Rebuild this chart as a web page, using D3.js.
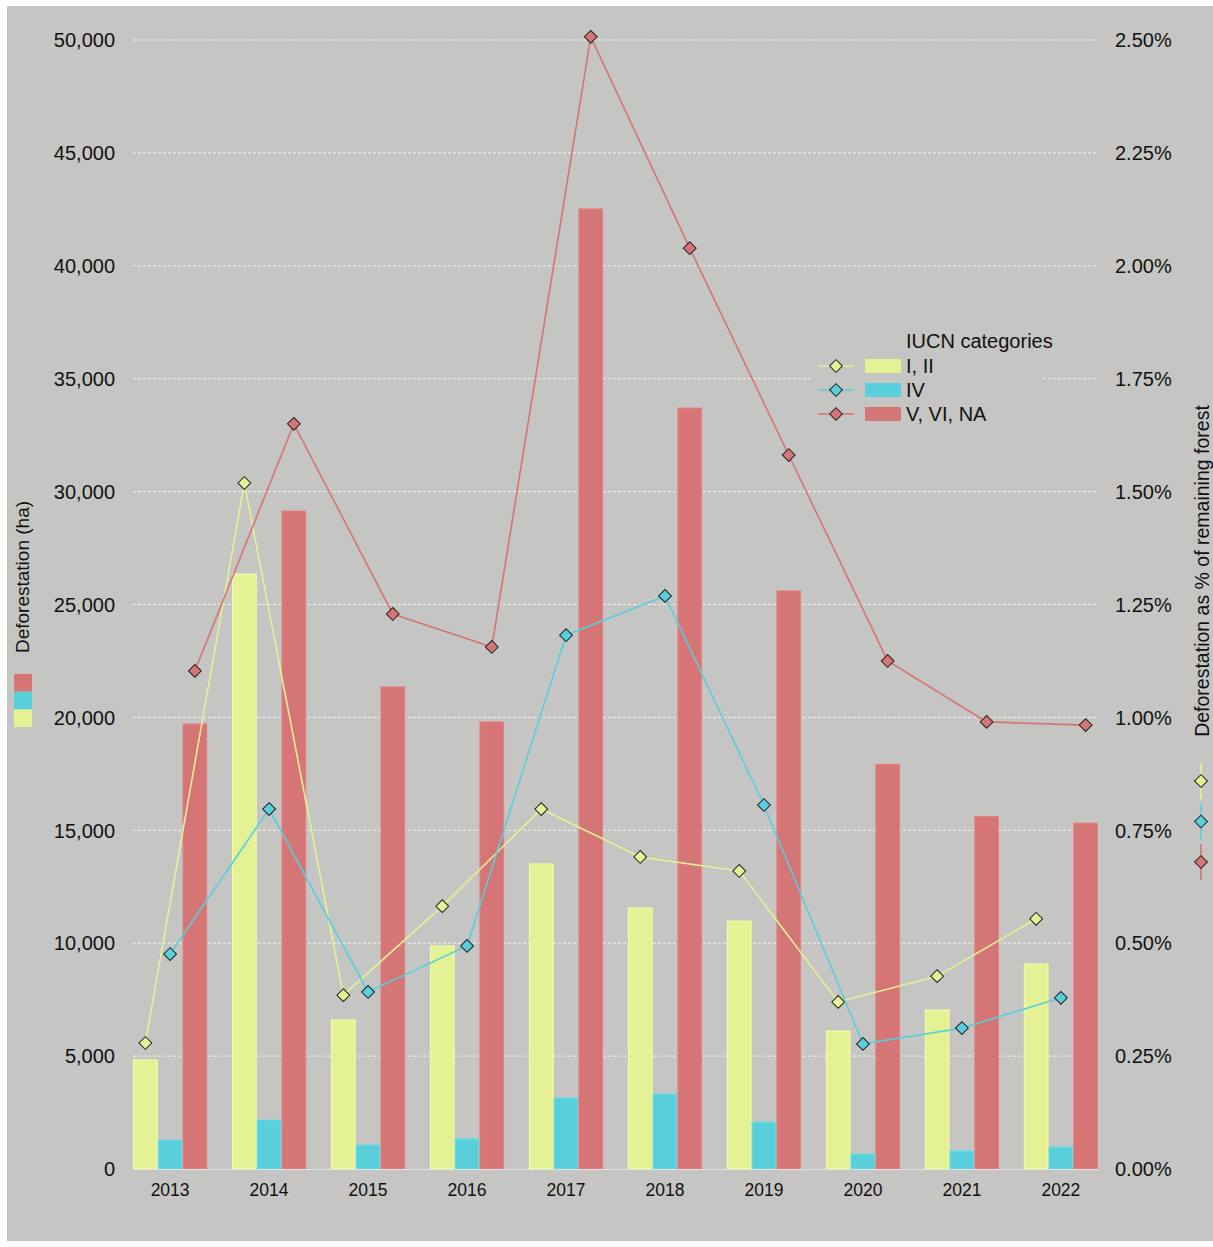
<!DOCTYPE html>
<html>
<head>
<meta charset="utf-8">
<script src="https://cdn.jsdelivr.net/npm/d3@7"></script>
<style>
  body { margin: 0; background: #fff; }
  svg { display: block; font-family: "Liberation Sans", Arial, sans-serif; }
</style>
</head>
<body>
<svg id="chart" width="1213" height="1247"></svg>
<script>
// data
const years = [2013, 2014, 2015, 2016, 2017, 2018, 2019, 2020, 2021, 2022];
const categories = ["I, II", "IV", "V, VI, NA"];
const colors = ["#e4f194", "#58cfdb", "#d57575"];

// deforestation in hectares (bars, left axis)
const haI_II = [4830, 26350, 6600, 9880, 13510, 11560, 10980, 6110, 7040, 9080];
const haIV = [1280, 2170, 1060, 1330, 3140, 3320, 2080, 660, 800, 970];
const haV_VI_NA = [19710, 29140, 21350, 19800, 42520, 33700, 25600, 17920, 15610, 15320];

// deforestation as % of remaining forest (lines, right axis)
const pctI_II = [0.279, 1.519, 0.385, 0.582, 0.797, 0.691, 0.660, 0.370, 0.427, 0.554];
const pctIV = [0.476, 0.797, 0.392, 0.494, 1.182, 1.269, 0.806, 0.277, 0.312, 0.379];
const pctV_VI_NA = [1.103, 1.650, 1.229, 1.156, 2.507, 2.039, 1.581, 1.125, 0.990, 0.983];

const leftTicks = [0, 5000, 10000, 15000, 20000, 25000, 30000, 35000, 40000, 45000, 50000];
const rightTicks = [0, 0.25, 0.5, 0.75, 1, 1.25, 1.5, 1.75, 2, 2.25, 2.5];

const haSeries = [haI_II, haIV, haV_VI_NA];
const pctSeries = [pctI_II, pctIV, pctV_VI_NA];

const svg = d3.select("#chart");
const bg = "#c5c5c3";

// grey panel
svg.append("rect").attr("x", 7).attr("y", 6).attr("width", 1206).attr("height", 1235).attr("fill", bg);

const x0 = d3.scaleBand().domain(years).range([133, 1098]).paddingInner(0.25).paddingOuter(0);
const x1 = d3.scaleBand().domain(d3.range(categories.length)).range([0, x0.bandwidth()]);
const y = d3.scaleLinear().domain([0, 50000]).range([1169, 40]);
const y2 = d3.scaleLinear().domain([0, 2.5]).range([1169, 40]);

// gridlines
svg.append("g").selectAll("line")
  .data(leftTicks.filter(d => d > 0))
  .join("line")
  .attr("x1", 133).attr("x2", 1098)
  .attr("y1", d => y(d)).attr("y2", d => y(d))
  .attr("stroke", "#f2f2f2").attr("stroke-width", 1)
  .attr("stroke-dasharray", "3,2");

// bars
const groups = svg.append("g").selectAll("g")
  .data(years)
  .join("g")
  .attr("transform", d => `translate(${x0(d)},0)`);

groups.selectAll("rect")
  .data((d, i) => haSeries.map((s, k) => ({ k: k, v: s[i] })))
  .join("rect")
  .attr("x", d => x1(d.k) + 0.5)
  .attr("width", x1.bandwidth() - 1)
  .attr("y", d => y(d.v))
  .attr("height", d => y(0) - y(d.v))
  .attr("fill", d => colors[d.k])
  .attr("stroke", d => d3.color(colors[d.k]).brighter(0.25))
  .attr("stroke-width", 1);

// baseline
svg.append("line").attr("x1", 133).attr("x2", 1098).attr("y1", y(0) + 0.5).attr("y2", y(0) + 0.5)
  .attr("stroke", "#e2e2e2").attr("stroke-width", 1.2);

// lines + diamonds
const diamond = d3.symbol(d3.symbolSquare, 82);
pctSeries.forEach((s, k) => {
  const px = (d, i) => x0(years[i]) + x1(k) + x1.bandwidth() / 2;
  const line = d3.line().x(px).y(d => y2(d));
  svg.append("path").datum(s)
    .attr("d", line)
    .attr("fill", "none")
    .attr("stroke", colors[k])
    .attr("stroke-width", 1.6);
  svg.append("g").selectAll("path")
    .data(s)
    .join("path")
    .attr("d", diamond)
    .attr("transform", (d, i) => `translate(${px(d, i)},${y2(d)}) rotate(45)`)
    .attr("fill", colors[k])
    .attr("stroke", "#222")
    .attr("stroke-width", 1);
});

// left axis labels
svg.append("g").selectAll("text")
  .data(leftTicks)
  .join("text")
  .attr("x", 115).attr("y", d => y(d)).attr("dy", "0.36em")
  .attr("text-anchor", "end")
  .attr("font-size", 20).attr("fill", "#111")
  .text(d3.format(","));

// right axis labels
svg.append("g").selectAll("text")
  .data(rightTicks)
  .join("text")
  .attr("x", 1115).attr("y", d => y2(d)).attr("dy", "0.36em")
  .attr("font-size", 20).attr("fill", "#111")
  .text(d => d3.format(".2%")(d / 100));

// x axis labels
svg.append("g").selectAll("text")
  .data(years)
  .join("text")
  .attr("x", d => x0(d) + x0.bandwidth() / 2).attr("y", 1196)
  .attr("text-anchor", "middle")
  .attr("font-size", 17.5).attr("fill", "#111")
  .text(d => d);

// left axis title with bar swatches
svg.append("text")
  .attr("transform", "translate(29,577) rotate(-90)")
  .attr("text-anchor", "middle")
  .attr("font-size", 19).attr("fill", "#111")
  .text("Deforestation (ha)");
[2, 1, 0].forEach((k, j) => {
  svg.append("rect")
    .attr("x", 14).attr("y", 674 + j * 17.7)
    .attr("width", 18).attr("height", 17.7)
    .attr("fill", colors[k]);
});

// right axis title with line swatches
svg.append("text")
  .attr("transform", "translate(1209,571) rotate(-90)")
  .attr("text-anchor", "middle")
  .attr("font-size", 19.5).attr("fill", "#111")
  .text("Deforestation as % of remaining forest");
[0, 1, 2].forEach(k => {
  const cy = 781 + k * 40.5;
  svg.append("line").attr("x1", 1201).attr("x2", 1201).attr("y1", cy - 18).attr("y2", cy + 18)
    .attr("stroke", colors[k]).attr("stroke-width", 1.6);
  svg.append("path").attr("d", diamond)
    .attr("transform", `translate(1201,${cy}) rotate(45)`)
    .attr("fill", colors[k]).attr("stroke", "#222").attr("stroke-width", 1);
});

// legend
const legend = svg.append("g");
legend.append("rect").attr("x", 812).attr("y", 326).attr("width", 230).attr("height", 104).attr("fill", bg);
legend.append("text").attr("x", 906).attr("y", 348)
  .attr("font-size", 20).attr("fill", "#111").text("IUCN categories");
categories.forEach((c, k) => {
  const cy = 366 + k * 24;
  legend.append("line").attr("x1", 818).attr("x2", 854).attr("y1", cy).attr("y2", cy)
    .attr("stroke", colors[k]).attr("stroke-width", 1.6);
  legend.append("path").attr("d", diamond)
    .attr("transform", `translate(836,${cy}) rotate(45)`)
    .attr("fill", colors[k]).attr("stroke", "#222").attr("stroke-width", 1);
  legend.append("rect").attr("x", 865).attr("y", cy - 7).attr("width", 36).attr("height", 14)
    .attr("fill", colors[k]);
  legend.append("text").attr("x", 906).attr("y", cy).attr("dy", "0.36em")
    .attr("font-size", 20).attr("fill", "#111").text(c);
});
</script>
</body>
</html>
